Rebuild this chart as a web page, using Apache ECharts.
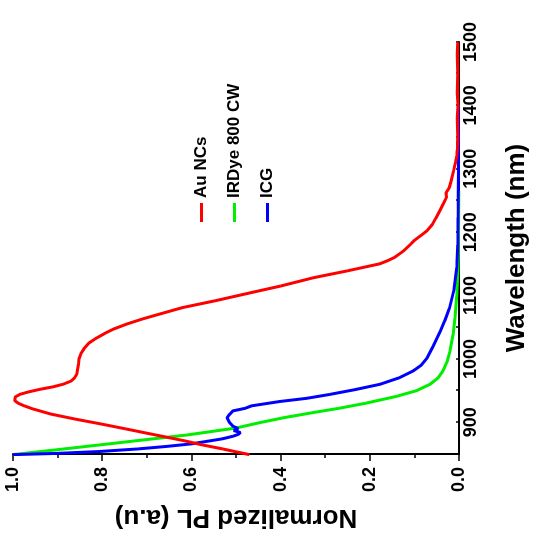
<!DOCTYPE html>
<html>
<head>
<meta charset="utf-8">
<title>Normalized PL spectra</title>
<script src="https://cdn.jsdelivr.net/npm/echarts@6/dist/echarts.min.js"></script>
<style>
  html, body { margin: 0; padding: 0; background: #ffffff; overflow: hidden; }
  /* The plot is laid out upright, then turned a quarter turn counter-clockwise. */
  #chart {
    position: absolute; left: 0; top: 0;
    width: 540px; height: 541px;
    transform-origin: 0 0;
    transform: translateY(540px) rotate(-90deg);
  }
</style>
</head>
<body>
<div id="chart"></div>
<script>
// Series names
const seriesNames = ['Au NCs', 'IRDye 800 CW', 'ICG'];

// Au NCs emission: wavelength (nm) and normalized PL
const auWavelength = [849, 858, 865, 870, 880, 890, 897, 905, 913, 921, 926, 930, 934, 937, 940, 944, 948, 952, 956, 960, 965, 970, 976, 985,
  992, 1000, 1008, 1017, 1025, 1032, 1040, 1047, 1055, 1063, 1072, 1081, 1092, 1104, 1115, 1128, 1139, 1150, 1155, 1160,
  1170, 1180, 1187, 1195, 1202, 1212, 1222, 1234, 1245, 1255, 1262, 1270, 1280, 1297, 1310, 1320, 1330, 1350, 1380, 1400,
  1420, 1450, 1480, 1500];
const auPL = [0.47, 0.53, 0.58, 0.61, 0.68, 0.75, 0.80, 0.86, 0.915, 0.955, 0.975, 0.988, 0.996, 0.998, 0.995, 0.985, 0.965, 0.94, 0.91, 0.888, 0.87, 0.862, 0.857, 0.855,
  0.853, 0.852, 0.848, 0.84, 0.83, 0.815, 0.795, 0.775, 0.745, 0.71, 0.665, 0.62, 0.545, 0.47, 0.40, 0.327, 0.25, 0.178, 0.16, 0.145,
  0.125, 0.11, 0.10, 0.085, 0.072, 0.06, 0.052, 0.043, 0.035, 0.028, 0.029, 0.022, 0.018, 0.012, 0.008, 0.005, 0.004, 0.003, 0.004, 0.002,
  0.004, 0.003, 0.004, 0.003];

// IRDye 800 CW emission
const irWavelength = [849, 860, 870, 880, 891, 899, 907, 915, 922, 930, 941, 950, 960, 970, 981, 995, 1013, 1040, 1065, 1100,
  1144, 1200, 1265];
const irPL = [1.0, 0.86, 0.735, 0.61, 0.50, 0.45, 0.395, 0.33, 0.27, 0.21, 0.14, 0.095, 0.065, 0.047, 0.036, 0.027, 0.02, 0.013, 0.009, 0.005,
  0.002, 0.001, 0.0];

// ICG emission
const icgWavelength = [849, 851, 854, 858, 862, 866, 870, 874, 878, 881, 884, 887, 890, 894, 900, 907, 912, 918, 922, 926,
  933, 938, 944, 952, 960, 970, 981, 990, 1001, 1020, 1044, 1060, 1081, 1110, 1144, 1180, 1223, 1300, 1350, 1400];
const icgPL = [1.0, 0.90, 0.805, 0.72, 0.655, 0.60, 0.565, 0.53, 0.507, 0.495, 0.49, 0.505, 0.495, 0.507, 0.515, 0.52, 0.515, 0.507, 0.48, 0.465,
  0.40, 0.34, 0.29, 0.23, 0.177, 0.135, 0.103, 0.085, 0.072, 0.058, 0.042, 0.032, 0.021, 0.011, 0.005, 0.003, 0.002, 0.001, 0.001, 0.001];

// Axis ticks
const wavelengthTicks = [900, 1000, 1100, 1200, 1300, 1400, 1500];
const plTicks = [0.0, 0.2, 0.4, 0.6, 0.8, 1.0];

const zip = (xs, ys) => xs.map((x, i) => [x, ys[i]]);

const FONT = '"Liberation Sans", Arial, Helvetica, sans-serif';
const chart = echarts.init(document.getElementById('chart'), null, { renderer: 'canvas', width: 540, height: 541 });

chart.setOption({
  backgroundColor: '#ffffff',
  animation: false,
  grid: { left: 86, right: 42, top: 13, bottom: 82, containLabel: false, outerBoundsMode: 'none' },
  legend: {
    orient: 'vertical',
    left: 313,
    top: 188,
    icon: 'rect',
    itemWidth: 19,
    itemHeight: 3,
    itemGap: 16,
    data: seriesNames,
    textStyle: { fontFamily: FONT, fontWeight: 'bold', fontSize: 17, color: '#000', lineHeight: 17 }
  },
  xAxis: {
    type: 'value',
    min: 850,
    max: 1500,
    interval: 50,
    name: 'Wavelength (nm)',
    nameLocation: 'middle',
    nameGap: 45,
    nameTextStyle: { fontFamily: FONT, fontWeight: 'bold', fontSize: 26, color: '#000' },
    axisLine: { show: true, onZero: false, lineStyle: { color: '#000', width: 2 } },
    axisTick: { show: true, inside: true, length: 3, lineStyle: { color: '#000', width: 1.5 } },
    axisLabel: {
      show: true, margin: 3,
      fontFamily: FONT, fontWeight: 'bold', fontSize: 18, color: '#000',
      formatter: v => (wavelengthTicks.indexOf(v) >= 0 ? String(v) : '')
    },
    splitLine: { show: false }
  },
  yAxis: {
    type: 'value',
    min: 0,
    max: 1,
    interval: 0.2,
    name: 'Normalized PL (a.u)',
    nameLocation: 'middle',
    nameGap: 50,
    nameRotate: 90,
    nameTextStyle: { fontFamily: FONT, fontWeight: 'bold', fontSize: 26, color: '#000' },
    axisLine: { show: true, onZero: false, lineStyle: { color: '#000', width: 2 } },
    axisTick: { show: true, inside: false, length: 7, lineStyle: { color: '#000', width: 1.5 } },
    minorTick: { show: true, splitNumber: 2, length: 4, lineStyle: { color: '#000', width: 1.5 } },
    axisLabel: {
      show: true, margin: 13,
      fontFamily: FONT, fontWeight: 'bold', fontSize: 18, color: '#000',
      formatter: v => {
        const t = plTicks.find(p => Math.abs(p - v) < 1e-6);
        return t === undefined ? '' : t.toFixed(1);
      }
    },
    splitLine: { show: false },
    minorSplitLine: { show: false }
  },
  series: [
    {
      name: seriesNames[0], type: 'line', data: zip(auWavelength, auPL),
      symbol: 'none', showSymbol: false, z: 4,
      lineStyle: { color: '#ff0000', width: 3 }, itemStyle: { color: '#ff0000' }
    },
    {
      name: seriesNames[1], type: 'line', data: zip(irWavelength, irPL),
      symbol: 'none', showSymbol: false, z: 3,
      lineStyle: { color: '#00ee00', width: 3 }, itemStyle: { color: '#00ee00' }
    },
    {
      name: seriesNames[2], type: 'line', data: zip(icgWavelength, icgPL),
      symbol: 'none', showSymbol: false, z: 3,
      lineStyle: { color: '#0000ff', width: 3 }, itemStyle: { color: '#0000ff' }
    }
  ]
});
</script>
</body>
</html>
